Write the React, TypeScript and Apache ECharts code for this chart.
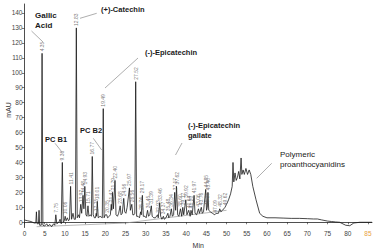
import React, { useEffect, useRef } from 'react';
import * as echarts from 'echarts';

// Chromatogram trace (retention time in min, signal in mAU)
const traceTime = [
  0, 0.8, 1.6, 2.4, 2.8, 2.95, 3.1, 3.45, 3.6, 3.75, 4.15, 4.35, 4.55, 5.0, 5.5, 5.8, 6.3, 6.7, 7.2, 7.5,
  7.75, 8.0, 8.5, 8.8, 9.1, 9.36, 9.6, 9.85, 10.06, 10.3, 10.6, 10.9, 11.15, 11.41, 11.65, 12.0, 12.3, 12.6, 12.83, 13.05,
  13.4, 13.6, 13.92, 14.15, 14.48, 14.7, 14.93, 15.2, 15.45, 15.71, 15.95, 16.3, 16.55, 16.77, 17.0, 17.3, 17.55, 17.75, 17.85, 18.01,
  18.25, 18.7, 19.25, 19.49, 19.7, 20.0, 20.35, 20.55, 21.0, 21.25, 21.47, 21.6, 21.79, 22.0, 22.4, 22.65, 23.0, 23.3, 23.68, 23.9,
  24.2, 24.56, 24.8, 25.1, 25.4, 25.97, 26.2, 26.56, 26.8, 27.1, 27.3, 27.52, 27.75, 28.1, 28.45, 28.74, 28.9, 29.17, 29.4, 29.8,
  30.1, 30.45, 30.7, 31.0, 31.39, 31.6, 32.0, 32.4, 32.93, 33.1, 33.46, 33.7, 34.0, 34.37, 34.6, 35.0, 35.48, 35.7, 36.0, 36.34,
  36.6, 36.9, 37.17, 37.4, 37.62, 37.9, 38.2, 38.6, 38.9, 39.17, 39.4, 39.92, 40.2, 40.64, 41.0, 41.2, 41.5, 41.97, 42.2, 42.6,
  43.06, 43.3, 43.76, 44.0, 44.3, 44.85, 45.05, 45.25, 45.4, 45.6, 46.0, 46.5, 47.09, 47.4, 48.0, 48.32, 48.6, 49.0, 49.62, 50.0,
  50.5, 51.0, 51.4, 51.6, 51.8, 52.1, 52.4, 52.7, 53.0, 53.3, 53.6, 53.8, 54.1, 54.4, 54.8, 55.2, 55.6, 56.0, 56.5, 57.3,
  58.2, 59.0, 60, 62, 64, 66, 68, 70, 71.5, 72.5, 73.5, 75, 76, 77, 78, 79.5, 80.5, 81.5, 83, 86,
];
const traceSignal = [
  1.5, 1, 0.5, -0.5, -0.5, 7, -1, -1, 8, -2, -2, 113, -2, -2.5, -1, -2.5, -1.5, -3, -1, -2,
  5, -1, 0, 2, -1, 40, 0, 1, 4, 1, 3, 1, 2, 24, 2, 6, 2, 2, 130, 3,
  5, 3, 12, 6, 18, 9, 24, 5, 4, 11, 4, 5, 4, 44, 5, 3, 3, 6, 4, 14,
  3, 4, 3, 76, 3, 5, 5, 3, 4, 5, 12, 8, 20, 9, 28, 5, 4, 6, 11, 5,
  6, 16, 7, 6, 10, 23, 8, 12, 5, 5, 6, 94, 4, 4, 3, 7, 5, 18, 4, 4,
  3, 8, 4, 5, 11, 4, 3, 3, 5, 3, 13, 4, 2, 4, 2, 3, 6, 3, 4, 9,
  4, 5, 20, 8, 24, 5, 4, 9, 4, 10, 5, 15, 5, 8, 4, 8, 5, 18, 6, 5,
  9, 6, 10, 6, 7, 22, 8, 10, 20, 8, 7, 6, 5, 6, 6, 9, 7, 8, 10, 12,
  15, 19, 24, 40, 27, 33, 28, 30, 34, 29, 43, 32, 35, 32, 36, 32, 35, 32, 24, 15,
  6, 4, 3, 3, 2.8, 2.6, 2.6, 2.4, 2.2, 2.2, 1.6, 0.8, 0.5, 0.2, 0, -2, -2.3, -0.5, 0, 0,
];

// Integration baseline
const baselineTime = [3, 25, 50];
const baselineSignal = [-3, -0.5, 8];

// Labelled peaks
const peakLabels = [
  '4.35', '7.75', '9.36', '10.06', '11.41', '12.83', '13.92', '14.48', '14.93', '15.71', '16.77', '17.75', '18.01', '19.49',
  '20.35', '21.47', '21.79', '22.40', '23.68', '24.56', '25.97', '26.56', '27.52', '28.74', '29.17', '30.45', '31.39', '32.93',
  '33.46', '34.37', '35.48', '36.34', '37.17', '37.62', '38.60', '39.17', '39.92', '40.64', '41.20', '41.97', '43.06', '43.76',
  '44.85', '45.25', '45.40', '47.09', '48.32', '49.62',
];
const peakTimes = peakLabels.map(Number);
const peakHeights = [
  113, 5, 40, 4, 24, 130, 12, 18, 24, 11, 44, 6, 14, 76,
  5, 12, 20, 28, 11, 16, 23, 12, 94, 7, 18, 8, 11, 5,
  13, 4, 6, 9, 20, 24, 9, 10, 15, 8, 8, 18, 9, 10,
  22, 10, 20, 5, 9, 10,
];

const xTickValues = [0, 5, 10, 15, 20, 25, 30, 35, 40, 45, 50, 55, 60, 65, 70, 75, 80, 85];
const yTickValues = [0, 10, 20, 30, 40, 50, 60, 70, 80, 90, 100, 110, 120, 130, 140];

const FONT = '"Liberation Sans", Arial, sans-serif';

export default function App() {
  const ref = useRef<HTMLDivElement>(null);
  useEffect(() => {
    const chart = echarts.init(ref.current!, null, { renderer: 'svg' });
    const lead = (x1: number, y1: number, x2: number, y2: number) => ({
      type: 'line',
      shape: { x1, y1, x2, y2 },
      style: { stroke: '#777', lineWidth: 0.6 },
      silent: true,
    });
    const note = (x: number, y: number, text: string, weight = 'bold', size = 7.5) => ({
      type: 'text',
      x,
      y,
      style: { text, fill: '#1a1a1a', font: `${weight} ${size}px ${FONT}`, lineHeight: size + 2, textVerticalAlign: 'top' },
      silent: true,
    });
    chart.setOption({
      animation: false,
      backgroundColor: '#fff',
      grid: { left: 24.5, right: 3, top: 4, bottom: 20.5, containLabel: false, outerBoundsMode: 'none' },
      xAxis: {
        type: 'value',
        min: 0,
        max: 86,
        name: 'Min',
        nameLocation: 'middle',
        nameGap: 13,
        nameTextStyle: { fontSize: 7, color: '#333', fontFamily: FONT },
        axisLine: { lineStyle: { color: '#222', width: 0.8 } },
        axisTick: { show: true, length: 2, customValues: xTickValues, lineStyle: { color: '#222', width: 0.6 } },
        axisLabel: {
          customValues: xTickValues,
          fontSize: 6.5,
          color: '#444',
          margin: 2.5,
          fontFamily: FONT,
          formatter: (v: number) => (v === 85 ? '{o|' + v + '}' : String(v)),
          rich: { o: { color: '#e8a040', fontSize: 6.5, fontFamily: FONT } },
        },
        splitLine: { show: false },
      },
      yAxis: {
        type: 'value',
        min: -3.5,
        max: 146,
        axisLine: { show: true, lineStyle: { color: '#222', width: 0.8 } },
        axisTick: { show: true, length: 2.5, customValues: yTickValues, lineStyle: { color: '#222', width: 0.6 } },
        axisLabel: { customValues: yTickValues, fontSize: 6.5, color: '#444', margin: 2, fontFamily: FONT },
        splitLine: { show: false },
      },
      series: [
        {
          type: 'line',
          data: baselineTime.map((t, i) => [t, baselineSignal[i]]),
          showSymbol: false,
          lineStyle: { color: '#9a9a9a', width: 0.7 },
          z: 1,
        },
        {
          type: 'line',
          data: traceTime.map((t, i) => [t, traceSignal[i]]),
          showSymbol: false,
          lineStyle: { color: '#1a1a1a', width: 0.8 },
          z: 2,
        },
        {
          type: 'scatter',
          data: peakTimes.map((t, i) => [t, peakHeights[i]]),
          symbolSize: 1,
          itemStyle: { color: 'rgba(0,0,0,0)' },
          z: 3,
          label: {
            show: true,
            position: 'top',
            distance: 1.5,
            rotate: 90,
            align: 'left',
            verticalAlign: 'middle',
            fontSize: 5,
            color: '#555',
            fontFamily: FONT,
            formatter: (p: any) => peakLabels[p.dataIndex],
          },
        },
      ],
      graphic: [
        {
          type: 'text',
          x: 8,
          y: 110,
          rotation: Math.PI / 2,
          style: { text: 'mAU', fill: '#333', font: `normal 7px ${FONT}`, align: 'center', verticalAlign: 'middle' },
          silent: true,
        },
        note(35, 10, 'Gallic\nAcid', 'bold', 8),
        lead(31.5, 31, 43, 42),
        note(101, 5, '(+)-Catechin'),
        lead(80, 18.3, 96.7, 13.3),
        note(145, 48, '(-)-Epicatechin'),
        lead(105, 88, 138, 58),
        note(188, 121, '(-)-Epicatechin\ngallate'),
        lead(175.5, 155, 182, 143),
        note(280, 149, 'Polymeric\nproanthocyanidins', 'normal', 8),
        lead(256.7, 178.3, 271.7, 163.3),
        note(45, 135, 'PC B1'),
        lead(55, 143.3, 61.7, 151.7),
        note(80, 126, 'PC B2'),
        lead(93.3, 138.3, 101.7, 150),
      ],
    });
    return () => chart.dispose();
  }, []);
  return <div ref={ref} style={{ position: 'fixed', left: 0, top: 0, width: 375, height: 248 }} />;
}
